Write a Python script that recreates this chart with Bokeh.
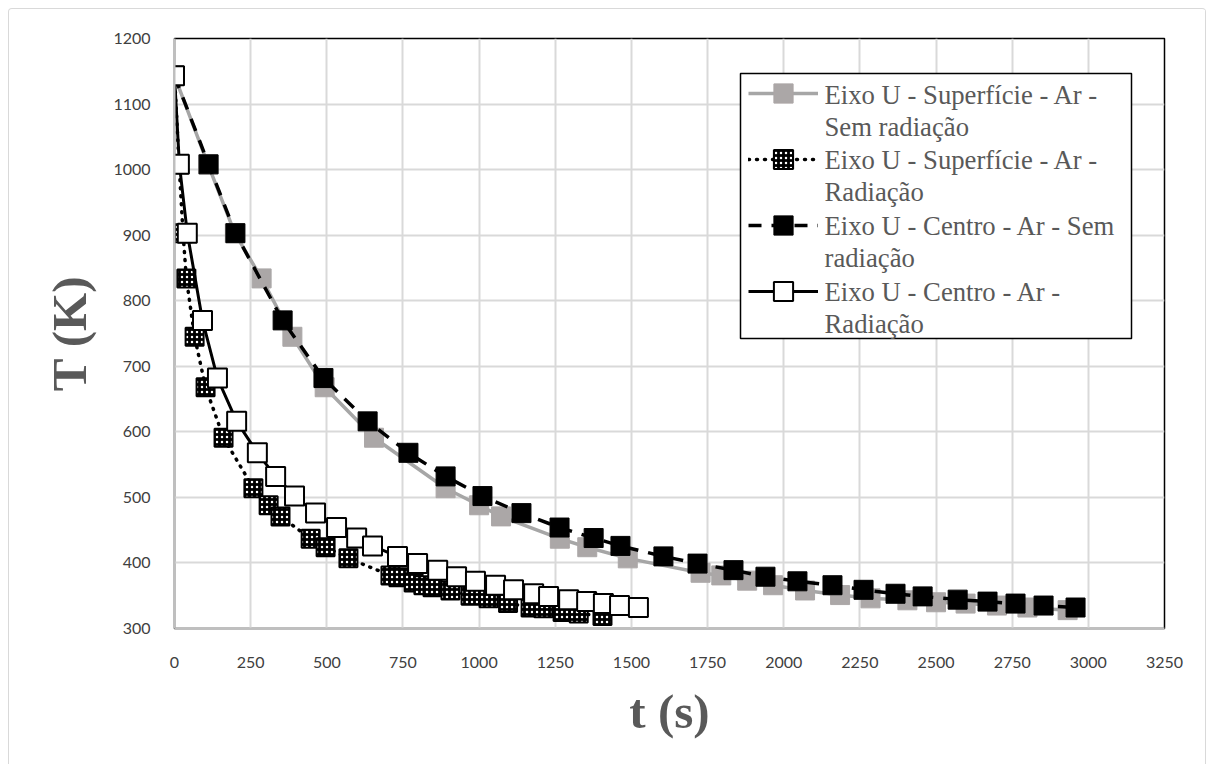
from bokeh.plotting import figure
from bokeh.models import Range1d, Legend, LegendItem, Label, BoxAnnotation
from bokeh.embed import file_html
from bokeh.resources import INLINE

# Cooling curves: time (s) vs temperature (K)
t_sup_sem = [0, 110, 198, 286, 387, 493, 655, 890, 1000, 1072, 1265, 1355, 1488, 1727, 1795,
             1880, 1965, 2070, 2185, 2285, 2406, 2500, 2597, 2700, 2800, 2932]
T_sup_sem = [1143, 1008, 903, 834, 745, 668, 591, 514, 488, 471, 437, 424, 407, 385, 381,
             373, 366, 358, 351, 346, 343, 340, 338, 335, 332, 328]

t_sup_rad = [0, 15, 28, 39, 66, 102, 161, 259, 309, 348, 447, 496, 571, 709, 735, 785, 817,
             847, 906, 972, 1031, 1095, 1169, 1211, 1274, 1327, 1405]
T_sup_rad = [1143, 1008, 903, 834, 745, 668, 591, 514, 488, 471, 437, 424, 407, 381, 378, 370,
             366, 363, 358, 350, 346, 339, 332, 331, 325, 323, 319]

t_cen_sem = [0, 112, 200, 355, 489, 634, 768, 890, 1011, 1139, 1264, 1376, 1464, 1605, 1717,
             1835, 1940, 2045, 2160, 2262, 2367, 2456, 2571, 2669, 2761, 2853, 2958]
t_cen_rad = [0, 16, 42, 92, 141, 204, 272, 332, 394, 463, 532, 598, 650, 732, 798, 864, 926,
             988, 1054, 1113, 1179, 1228, 1294, 1353, 1408, 1461, 1523]
T_cen = [1143, 1008, 903, 770, 682, 616, 568, 532, 502, 476, 454, 438, 426, 410, 399, 389, 379,
         372, 366, 359, 353, 349, 344, 341, 338, 335, 332]

x_ticks = list(range(0, 3251, 250))
y_ticks = list(range(300, 1201, 100))

labels = [
    ("Eixo U - Superfície - Ar -", "Sem radiação"),
    ("Eixo U - Superfície - Ar -", "Radiação"),
    ("Eixo U - Centro - Ar - Sem", "radiação"),
    ("Eixo U - Centro - Ar -", "Radiação"),
]

SERIF = "'Liberation Serif', 'Times New Roman', serif"

p = figure(width=1198, height=756, output_backend="svg", toolbar_location=None,
           x_range=Range1d(0, 3250), y_range=Range1d(300, 1200),
           min_border_left=165, min_border_right=43, min_border_top=29, min_border_bottom=137)
p.margin = (8, 0, 0, 8)
p.styles = {"border-top": "1px solid #d9d9d9", "border-left": "1px solid #d9d9d9",
            "border-right": "1px solid #d9d9d9", "border-top-left-radius": "4px",
            "border-top-right-radius": "4px"}

p.outline_line_color = "black"
p.outline_line_width = 1.5

p.xgrid.grid_line_color = "#d9d9d9"
p.ygrid.grid_line_color = "#d9d9d9"
p.xgrid.grid_line_width = 2
p.ygrid.grid_line_width = 2

for ax in (p.xaxis, p.yaxis):
    ax.axis_line_color = "#bfbfbf"
    ax.axis_line_width = 2
    ax.major_tick_line_color = None
    ax.minor_tick_line_color = None
    ax.major_label_text_font = "Lato"
    ax.major_label_text_font_size = "16px"
    ax.major_label_text_color = "#404040"
    ax.axis_label_text_font = SERIF
    ax.axis_label_text_font_style = "bold"
    ax.axis_label_text_font_size = "49px"
    ax.axis_label_text_color = "#595959"

p.xaxis.ticker = x_ticks
p.yaxis.ticker = y_ticks
p.xaxis.major_label_standoff = 22
p.yaxis.major_label_standoff = 18
p.xaxis.axis_label = "t (s)"
p.yaxis.axis_label = "T (K)"
p.xaxis.axis_label_standoff = 13
p.yaxis.axis_label_standoff = 13

# surface, no radiation: grey solid line with grey squares
r1l = p.line(t_sup_sem, T_sup_sem, line_color="#a6a6a6", line_width=3.5)
r1m = p.scatter(t_sup_sem, T_sup_sem, marker="square", size=19,
                fill_color="#aba7a7", line_color="#aba7a7")

# surface, radiation: dotted line with patterned squares
r2l = p.line(t_sup_rad, T_sup_rad, line_color="black", line_width=3.5,
             line_dash="1 7", line_cap="round")
r2m = p.scatter(t_sup_rad, T_sup_rad, marker="square", size=18, fill_color="black",
                line_color="black", line_width=2, hatch_pattern="dot",
                hatch_color="white", hatch_scale=5, hatch_weight=3.5)

# centre, no radiation: dashed line with black squares
r3l = p.line(t_cen_sem, T_cen, line_color="black", line_width=3.5, line_dash="13 10")
r3m = p.scatter(t_cen_sem, T_cen, marker="square", size=19, fill_color="black",
                line_color="black")

# centre, radiation: solid black line with white squares
r4l = p.line(t_cen_rad, T_cen, line_color="black", line_width=3)
r4m = p.scatter(t_cen_rad, T_cen, marker="square", size=19, fill_color="white",
                line_color="black", line_width=2)

series = [[r1l, r1m], [r2l, r2m], [r3l, r3m], [r4l, r4m]]

# legend frame (screen offsets from the frame's lower-left corner)
p.add_layout(BoxAnnotation(left=566, right=957, bottom=290, top=555,
                           left_units="screen", right_units="screen",
                           bottom_units="screen", top_units="screen",
                           fill_color="white", fill_alpha=1.0,
                           line_color="black", line_width=1.5, line_alpha=1.0))

# series samples, one per series, aligned with the first text line
glyph_items = [LegendItem(label=" ", renderers=rends) for rends in series]
glyph_legend = Legend(items=glyph_items, location=(574, 313), margin=0, padding=0, spacing=18,
                      glyph_width=70, glyph_height=48, label_height=48, label_standoff=0,
                      label_text_font_size="10px", border_line_color=None,
                      background_fill_alpha=0.0)
p.add_layout(glyph_legend, "center")

# legend text, two lines per series
text_x = 650
first_baseline = 534
item_step = 65.7
line_step = 32
for i, (first, second) in enumerate(labels):
    for j, line in enumerate((first, second)):
        p.add_layout(Label(x=text_x, y=first_baseline - i * item_step - j * line_step,
                           x_units="screen", y_units="screen", text=line,
                           text_font=SERIF, text_font_size="26.7px", text_color="#595959",
                           text_align="left", text_baseline="alphabetic",
                           level="overlay"))

open("out.html", "w").write(file_html(p, INLINE))
